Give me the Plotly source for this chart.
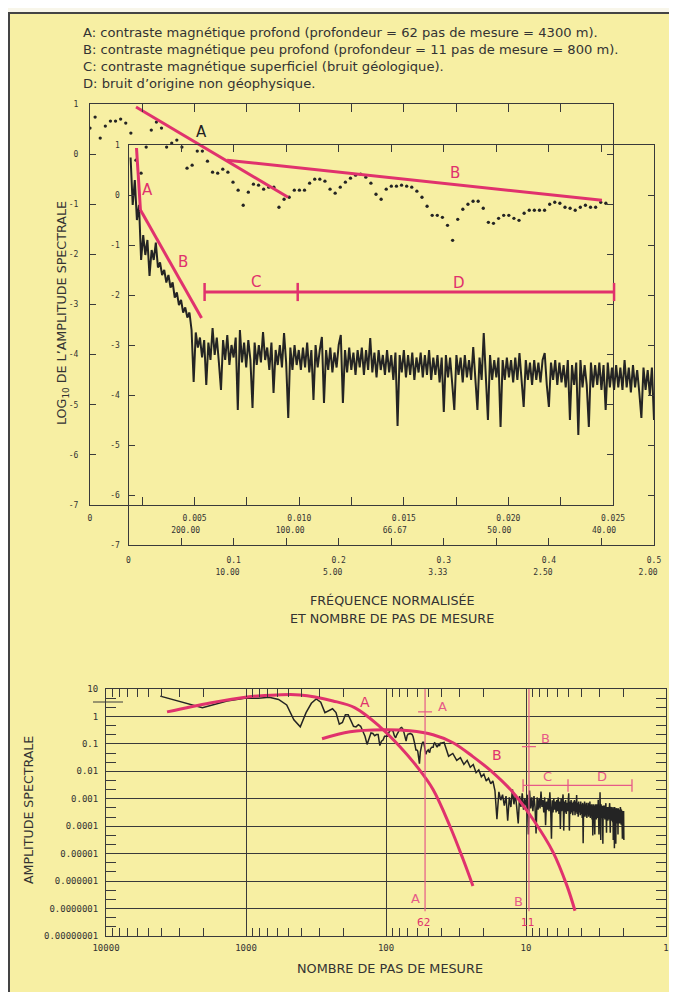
import numpy as np
import plotly.graph_objects as go

# Page is photographed at 677x992; the HTML body adds an 8 px margin.
OFF = 8
W, H = 677 - OFF, 992 - OFF

# ---------------- DATA ----------------
# Low-frequency spectrum (dots), log10 amplitude, frequency = k / 4096
dot_log_amp = [0.52, 0.74, 0.32, 0.56, 0.66, 0.66, 0.70, 0.62, 0.42, -0.12,
               -0.38, 0.14, 0.48, 0.64, 0.52, 0.14, 0.22, 0.28, 0.14, -0.28,
               -0.22, 0.06, 0.06, -0.14, -0.36, -0.38, -0.30, -0.36, -0.56, -0.72,
               -1.02, -0.76, -0.60, -0.62, -0.70, -0.66, -0.66, -1.06, -0.90, -0.86,
               -0.72, -0.72, -0.72, -0.58, -0.50, -0.50, -0.54, -0.70, -0.78, -0.66,
               -0.56, -0.48, -0.42, -0.40, -0.46, -0.58, -0.80, -0.90, -0.70, -0.64,
               -0.64, -0.62, -0.64, -0.66, -0.74, -0.86, -1.04, -1.22, -1.22, -1.26,
               -1.42, -1.72, -1.30, -1.10, -1.00, -0.94, -0.94, -1.08, -1.36, -1.38,
               -1.28, -1.22, -1.22, -1.28, -1.32, -1.18, -1.12, -1.12, -1.12, -1.12,
               -1.00, -0.96, -0.98, -1.06, -1.08, -1.12, -1.06, -1.02, -1.06, -1.06,
               -0.96, -0.98]
dot_df = 1 / 4096

# Full spectrum, log10 amplitude, frequency = k * 0.002 (k = 1..250)
spec_log_amp = [
    0.75, -0.2, 0.3, -0.5, -0.2, -1.3, -0.8, -1.2, -0.9, -1.62,
    -1.1, -1.3, -0.95, -1.45, -1.35, -1.6, -1.5, -1.75, -1.6, -1.85,
    -1.75, -2.05, -1.95, -2.2, -2.1, -2.35, -2.25, -2.45, -2.35, -2.7,
    -3.74,
    -2.75, -3.05, -2.85, -3.25, -2.9, -3.8, -2.95, -3.3, -2.66, -3.2,
    -2.85, -3.35, -3.9, -2.9, -3.3, -2.8, -3.4, -3.0, -3.25, -2.85,
    -4.3, -2.7, -3.35, -2.95, -3.45, -2.9, -3.3, -4.26, -2.95, -3.4,
    -3.0, -3.35, -2.74, -3.3, -3.05, -3.5, -2.95, -3.96, -3.1, -3.4,
    -3.0, -3.45, -2.76, -3.35, -4.46, -3.05, -3.5, -3.0, -3.4, -3.1,
    -3.5, -3.05, -3.45, -2.95, -3.55, -3.1, -4.1, -3.0, -3.45, -3.1,
    -2.84, -4.16, -3.1, -3.5, -3.05, -3.55, -3.15, -3.45, -3.0, -2.8,
    -4.16, -3.1, -3.55, -3.05, -3.5, -3.15, -3.6, -3.1, -3.45, -3.05,
    -3.6, -3.1, -3.5, -2.86, -3.55, -3.15, -3.65, -3.1, -3.5, -3.2,
    -3.6, -3.1, -3.55, -3.2, -3.7, -3.15, -4.62, -3.2, -3.55, -3.1,
    -3.65, -3.2, -3.6, -3.15, -3.7, -3.25, -3.55, -3.15, -3.65, -3.2,
    -3.6, -3.1, -3.7, -3.25, -3.6, -3.2, -3.75, -3.25, -4.34, -3.2,
    -3.65, -3.25, -3.7, -4.3, -3.2, -3.6, -3.25, -3.75, -3.2, -3.65,
    -3.3, -3.7, -3.04, -3.6, -4.3, -3.25, -3.7, -2.76, -3.6, -4.5,
    -3.2, -3.7, -3.3, -3.65, -3.25, -4.64, -3.3, -3.7, -3.25, -3.65,
    -3.3, -3.75, -3.25, -3.7, -3.16, -3.75, -4.24, -3.3, -3.7, -3.35,
    -3.8, -3.3, -3.7, -3.35, -3.75, -3.3, -3.16, -3.8, -4.24, -3.35,
    -3.7, -3.3, -3.8, -3.35, -3.75, -3.4, -3.85, -3.3, -4.5, -3.4,
    -3.8, -3.35, -4.8, -3.3, -3.85, -3.4, -3.8, -4.64, -3.35, -3.85,
    -3.4, -3.8, -3.35, -3.9, -3.4, -4.3, -3.35, -3.85, -3.45, -3.9,
    -3.4, -3.85, -3.45, -3.9, -3.3, -3.85, -3.45, -3.95, -3.4, -3.85,
    -3.5, -3.95, -4.46, -3.45, -3.9, -3.5, -4.0, -3.45, -4.5]
spec_df = 0.002

# Interpretive straight lines (top panel)
outerA_f, outerA_v = [0.0022, 0.00947], [0.94, -0.86]
outerB_f, outerB_v = [0.00655, 0.02447], [-0.12, -0.92]
innerA_f, innerA_v = [0.0076, 0.0114], [0.94, -0.30]
innerB_f, innerB_v = [0.0114, 0.0695], [-0.30, -2.46]
cd_f, cd_v = [0.0724, 0.161, 0.462], [-1.94, -1.94, -1.94]

# Model curves (bottom panel): log10(number of steps), log10(amplitude)
curveA_lN = [3.564, 3.257, 2.993, 2.779, 2.614, 2.379, 2.221, 2.043, 1.9, 1.779, 1.664, 1.543, 1.45, 1.379]
curveA_lA = [0.167, 0.493, 0.71, 0.783, 0.783, 0.565, 0.312, -0.377, -1.101, -1.826, -2.659, -4.0, -5.196, -6.174]
curveB_lN = [2.457, 2.257, 2.021, 1.829, 1.664, 1.521, 1.379, 1.236, 1.093, 0.95, 0.807, 0.707, 0.65]
curveB_lA = [-0.812, -0.558, -0.486, -0.522, -0.667, -0.957, -1.464, -2.043, -2.768, -3.746, -4.942, -6.174, -7.08]
depth_lN = {"A": 1.721, "B": 0.979}
depth_mark_lA = {"A": 0.167, "B": -1.10}
depth_bottom_lA = -7.1
cd_bot_lN = [1.021, 0.70, 0.243]
cd_bot_lA = -2.515

# Tick labels
outer_xt = [0, 0.0025, 0.005, 0.0075, 0.01, 0.0125, 0.015, 0.0175, 0.02, 0.0225, 0.025]
outer_xl1 = ["0", " ", "0.005", " ", "0.010", " ", "0.015", " ", "0.020", " ", "0.025"]
outer_xl2 = [" ", " ", "200.00", " ", "100.00", " ", "66.67", " ", "50.00", " ", "40.00"]
inner_xt = [0, 0.05, 0.1, 0.15, 0.2, 0.25, 0.3, 0.35, 0.4, 0.45, 0.5]
inner_xl1 = ["0", " ", "0.1", " ", "0.2", " ", "0.3", " ", "0.4", " ", "0.5"]
inner_xl2 = [" ", " ", "10.00", " ", "5.00", " ", "3.33", " ", "2.50", " ", "2.00"]
log_yt = [1, 0, -1, -2, -3, -4, -5, -6, -7]
bot_xt = [10000, 1000, 100, 10, 1]
bot_yt_text = ["10", "1", "0.1", "0.01", "0.001", "0.0001", "0.00001", "0.000001",
               "0.0000001", "0.00000001"]

legend_lines = [
    "A: contraste magnétique profond (profondeur = 62 pas de mesure = 4300 m).",
    "B: contraste magnétique peu profond (profondeur = 11 pas de mesure = 800 m).",
    "C: contraste magnétique superficiel (bruit géologique).",
    "D: bruit d’origine non géophysique.",
]

# ---------------- STYLE ----------------
PINK = "#e0326d"
PINK_THIN = "#e65a88"
INK = "#242424"
AX = "#3a3a3a"
YELLOW = "#f7efa3"
TXT_FONT = "DejaVu Sans"
TICK_FONT = dict(family="DejaVu Sans Mono", size=8, color="#333")


def px(X):
    return (X - OFF) / W


def py(Y):
    return 1 - (Y - OFF) / H


def dx(a, b):
    return [px(a), px(b)]


def dy(top, bottom):
    return [py(bottom), py(top)]


fig = go.Figure()

dot_f = np.arange(len(dot_log_amp)) * dot_df
spec_f = np.arange(1, len(spec_log_amp) + 1) * spec_df

# outer panel (dots)
fig.add_trace(go.Scatter(x=dot_f, y=dot_log_amp, mode="markers", xaxis="x", yaxis="y",
                         marker=dict(size=3.3, color=INK), showlegend=False, hoverinfo="skip"))
fig.add_trace(go.Scatter(x=outerA_f, y=outerA_v, mode="lines", xaxis="x", yaxis="y",
                         line=dict(color=PINK, width=3), showlegend=False))
fig.add_trace(go.Scatter(x=outerB_f, y=outerB_v, mode="lines", xaxis="x", yaxis="y",
                         line=dict(color=PINK, width=3), showlegend=False))
fig.add_trace(go.Scatter(x=[None], y=[None], xaxis="x4", yaxis="y", showlegend=False))

# inner panel (full spectrum)
fig.add_trace(go.Scatter(x=spec_f, y=spec_log_amp, mode="lines", xaxis="x2", yaxis="y2",
                         line=dict(color=INK, width=2), showlegend=False, hoverinfo="skip"))
fig.add_trace(go.Scatter(x=innerA_f, y=innerA_v, mode="lines", xaxis="x2", yaxis="y2",
                         line=dict(color=PINK, width=3), showlegend=False))
fig.add_trace(go.Scatter(x=innerB_f, y=innerB_v, mode="lines", xaxis="x2", yaxis="y2",
                         line=dict(color=PINK, width=3), showlegend=False))
fig.add_trace(go.Scatter(x=cd_f, y=cd_v, mode="lines+markers", xaxis="x2", yaxis="y2",
                         line=dict(color=PINK, width=3),
                         marker=dict(symbol="line-ns-open", size=13, color=PINK,
                                     line=dict(color=PINK, width=2.5)),
                         showlegend=False))
fig.add_trace(go.Scatter(x=[None], y=[None], xaxis="x5", yaxis="y2", showlegend=False))

# bottom panel: same spectrum against number of steps
sel = spec_f > dot_f[-1]
bot_f = np.concatenate([dot_f[1:], spec_f[sel]])
bot_v = np.concatenate([np.array(dot_log_amp[1:]), np.array(spec_log_amp)[sel]])
fig.add_trace(go.Scatter(x=1 / bot_f, y=np.power(10.0, bot_v), mode="lines", xaxis="x3", yaxis="y3",
                         line=dict(color=INK, width=1.5), showlegend=False, hoverinfo="skip"))
fig.add_trace(go.Scatter(x=np.power(10.0, curveA_lN), y=np.power(10.0, curveA_lA), mode="lines",
                         xaxis="x3", yaxis="y3", line=dict(color=PINK, width=3, shape="spline"),
                         showlegend=False))
fig.add_trace(go.Scatter(x=np.power(10.0, curveB_lN), y=np.power(10.0, curveB_lA), mode="lines",
                         xaxis="x3", yaxis="y3", line=dict(color=PINK, width=3, shape="spline"),
                         showlegend=False))
for key in ["A", "B"]:
    n = 10 ** depth_lN[key]
    fig.add_trace(go.Scatter(x=[n, n], y=[10.0, 10 ** depth_bottom_lA], mode="lines",
                             xaxis="x3", yaxis="y3", line=dict(color=PINK_THIN, width=1.2),
                             showlegend=False))
    fig.add_trace(go.Scatter(x=[n], y=[10 ** depth_mark_lA[key]], mode="markers",
                             xaxis="x3", yaxis="y3",
                             marker=dict(symbol="line-ew-open", size=10, color=PINK_THIN,
                                         line=dict(color=PINK_THIN, width=1.2)),
                             showlegend=False))
fig.add_trace(go.Scatter(x=np.power(10.0, cd_bot_lN), y=[10 ** cd_bot_lA] * 3, mode="lines+markers",
                         xaxis="x3", yaxis="y3", line=dict(color=PINK_THIN, width=1.3),
                         marker=dict(symbol="line-ns-open", size=9, color=PINK_THIN,
                                     line=dict(color=PINK_THIN, width=1.3)),
                         showlegend=False))

common = dict(showgrid=False, zeroline=False, showline=True, linecolor=AX, linewidth=1,
              ticks="inside", tickcolor=AX, mirror="ticks", tickfont=TICK_FONT, automargin=False)

layout_axes = dict(
    xaxis=dict(common, domain=dx(90, 613), range=[0, 0.025], anchor="y",
               tickvals=outer_xt, ticktext=outer_xl1, ticklen=8, ticklabelstandoff=5),
    yaxis=dict(common, domain=dy(104, 505), range=[-7, 1], anchor="x",
               tickvals=log_yt, ticktext=[str(v) for v in log_yt], ticklen=6, ticklabelstandoff=9),
    xaxis4=dict(overlaying="x", anchor="y", side="bottom", range=[0, 0.025], automargin=False,
                showgrid=False, zeroline=False, showline=False, ticks="",
                tickvals=outer_xt, ticktext=outer_xl2, tickfont=TICK_FONT,
                ticklabelstandoff=19, ticklabelshift=-9),
    xaxis2=dict(common, domain=dx(128.5, 654), range=[0, 0.5], anchor="y2",
                tickvals=inner_xt, ticktext=inner_xl1, ticklen=7, ticklabelstandoff=7),
    yaxis2=dict(common, domain=dy(145, 545), range=[-7, 1], anchor="x2",
                tickvals=log_yt, ticktext=[str(v) for v in log_yt], ticklen=6, ticklabelstandoff=6),
    xaxis5=dict(overlaying="x2", anchor="y2", side="bottom", range=[0, 0.5], automargin=False,
                showgrid=False, zeroline=False, showline=False, ticks="",
                tickvals=inner_xt, ticktext=inner_xl2, tickfont=TICK_FONT,
                ticklabelstandoff=21, ticklabelshift=-6),
    xaxis3=dict(common, type="log", domain=dx(106, 666), range=[4, 0], anchor="y3",
                tickvals=bot_xt, ticktext=[str(v) for v in bot_xt], ticklen=8,
                showgrid=True, gridcolor=AX, gridwidth=1, ticklabelstandoff=3,
                tickfont=dict(family="DejaVu Sans Mono", size=9, color="#333"),
                minor=dict(tickvals=[m * 10 ** e for e in range(0, 4) for m in range(2, 10)],
                           ticks="inside", ticklen=8, tickcolor=AX, showgrid=False)),
    yaxis3=dict(common, type="log", domain=dy(689, 936), range=[-8, 1], anchor="x3",
                tickvals=[10.0 ** e for e in range(1, -9, -1)], ticktext=bot_yt_text, ticklen=10,
                showgrid=True, gridcolor=AX, gridwidth=1, ticklabelstandoff=5,
                tickfont=dict(family="DejaVu Sans Mono", size=9, color="#333"),
                minor=dict(tickvals=[10 ** (e + f) for e in range(-8, 1) for f in (1 / 3, 2 / 3)],
                           ticks="inside", ticklen=10, tickcolor=AX, showgrid=False)),
)


def paper_text(X, Y, text, size, angle=0, xanchor="center"):
    return dict(xref="paper", yref="paper", x=px(X), y=py(Y), xanchor=xanchor, yanchor="middle",
                textangle=angle, showarrow=False, text=text,
                font=dict(family=TXT_FONT, size=size, color="#333"))


def data_text(xr, yr, X, Y, text, size, color):
    return dict(xref=xr, yref=yr, x=X, y=Y, xanchor="center", yanchor="middle", showarrow=False,
                text=text, font=dict(family=TXT_FONT, size=size, color=color))


ann = [paper_text(81, 32 + 17.3 * i, line, 13.1, xanchor="left") for i, line in enumerate(legend_lines)]
ann += [
    paper_text(62, 313, "LOG<sub>10</sub> DE L’AMPLITUDE SPECTRALE", 12.7, angle=-90),
    paper_text(392, 600, "FRÉQUENCE NORMALISÉE", 12.7),
    paper_text(392, 618, "ET NOMBRE DE PAS DE MESURE", 12.7),
    paper_text(28, 810, "AMPLITUDE SPECTRALE", 12.6, angle=-90),
    paper_text(390, 968, "NOMBRE DE PAS DE MESURE", 12.8),
    # top panel labels
    data_text("x", "y", 0.00531, 0.44, "A", 15, "#222"),
    data_text("x", "y", 0.01745, -0.38, "B", 15, PINK),
    data_text("x2", "y2", 0.0181, 0.10, "A", 15, PINK),
    data_text("x2", "y2", 0.0514, -1.34, "B", 15, PINK),
    data_text("x2", "y2", 0.121, -1.74, "C", 15, PINK),
    data_text("x2", "y2", 0.314, -1.76, "D", 15, PINK),
    # bottom panel labels (log coordinates)
    data_text("x3", "y3", 2.15, 0.53, "A", 14, PINK),
    data_text("x3", "y3", 1.207, -1.39, "B", 14, PINK),
    data_text("x3", "y3", 1.60, 0.35, "A", 13, PINK_THIN),
    data_text("x3", "y3", 0.864, -0.81, "B", 13, PINK_THIN),
    data_text("x3", "y3", 1.79, -6.64, "A", 13, PINK_THIN),
    data_text("x3", "y3", 1.057, -6.75, "B", 13, PINK_THIN),
    data_text("x3", "y3", 1.73, -7.48, "62", 10.5, PINK),
    data_text("x3", "y3", 0.986, -7.48, "11", 10.5, PINK),
    data_text("x3", "y3", 0.85, -2.19, "C", 13, PINK_THIN),
    data_text("x3", "y3", 0.457, -2.19, "D", 13, PINK_THIN),
]

# page frame: pale strip above the top rule, dark rule on top and at left
shapes = [
    dict(type="rect", xref="paper", yref="paper", x0=0, x1=1, y0=py(13), y1=1,
         fillcolor="#f8f6ea", line=dict(width=0), layer="below"),
    dict(type="line", xref="paper", yref="paper", x0=0, x1=1, y0=py(13), y1=py(13),
         line=dict(color="#444", width=2), layer="below"),
    dict(type="line", xref="paper", yref="paper", x0=1 / W, x1=1 / W, y0=0, y1=py(13),
         line=dict(color="#444", width=2), layer="below"),
    dict(type="line", xref="paper", yref="paper", x0=px(93), x1=px(123), y0=py(702), y1=py(702),
         line=dict(color=AX, width=1)),
]

fig.update_layout(
    width=W, height=H, margin=dict(l=0, r=0, t=0, b=0, autoexpand=False),
    paper_bgcolor=YELLOW, plot_bgcolor="rgba(0,0,0,0)",
    showlegend=False, annotations=ann, shapes=shapes, **layout_axes,
)

fig.write_html("out.html")
